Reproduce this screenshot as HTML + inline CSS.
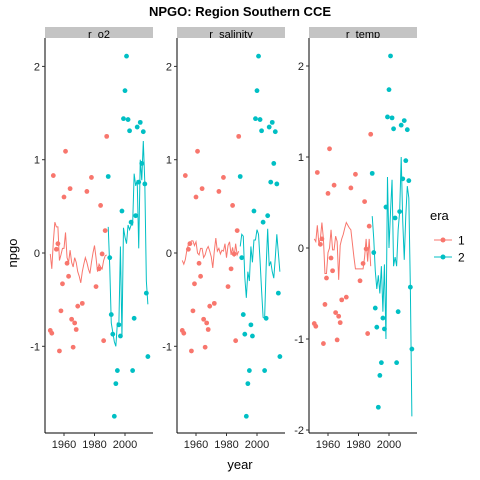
<!DOCTYPE html>
<html><head><meta charset="utf-8"><style>
body{margin:0;background:#fff;}
svg{display:block;font-family:"Liberation Sans",sans-serif;}
</style></head><body>
<svg id="chart" width="480" height="480" viewBox="0 0 480 480">
<rect width="480" height="480" fill="#fff"/>
<text x="240" y="16" text-anchor="middle" font-size="13" font-weight="bold">NPGO: Region Southern CCE</text>
<text x="240" y="469" text-anchor="middle" font-size="13">year</text>
<text transform="translate(17,253) rotate(-90)" text-anchor="middle" font-size="13">npgo</text>
<g>
<text x="430" y="220" font-size="13">era</text>
<line x1="434" y1="240" x2="452" y2="240" stroke="#F8766D" stroke-width="1"/><circle cx="443" cy="240" r="2.5" fill="#F8766D"/>
<text x="458" y="244.5" font-size="12">1</text>
<line x1="434" y1="257" x2="452" y2="257" stroke="#00BFC4" stroke-width="1"/><circle cx="443" cy="257" r="2.5" fill="#00BFC4"/>
<text x="458" y="261.5" font-size="12">2</text>
</g>
<defs><clipPath id="stripclip"><rect x="0" y="27" width="480" height="11"/></clipPath></defs>
<g id="panels"></g>
</svg>
<script>
const pointYears = [1951,1952,1953,1955,1956,1957,1958,1959,1960,1961,1962,1963,1964,1965,1966,1967,1968,1969,1972,1975,1978,1981,1983,1984,1985,1986,1987,1988,
1989,1990,1991,1992,1993,1994,1995,1996,1997,1998,1999,2000,2001,2002,2003,2004,2005,2006,2007,2008,2009,2010,2011,2012,2013,2014,2015];
const pointNpgo = [-0.83,-0.86,0.83,0.04,0.10,-1.05,-0.62,-0.33,0.60,1.09,-0.11,-0.25,0.69,-0.71,-1.01,-0.75,-0.82,-0.57,-0.54,0.66,0.81,-0.36,-0.17,0.51,-0.01,-0.94,0.24,1.25,
0.82,-0.05,-0.66,-0.87,-1.75,-1.40,-1.26,-0.77,-0.89,0.45,1.44,1.74,2.11,1.43,1.31,0.33,-1.26,-0.70,0.40,1.35,0.76,1.40,0.96,1.30,0.74,-0.43,-1.11];
const era1Years = [1951,1952,1953,1954,1955,1956,1957,1958,1959,1960,1961,1962,1963,1964,1965,1966,1967,1968,1969,1970,1971,1972,1973,1974,1975,1976,1977,1978,1979,1980,1981,1982,1983,1984,1985,1986,1987,1988];
const era2Years = [1989,1990,1991,1992,1993,1994,1995,1996,1997,1998,1999,2000,2001,2002,2003,2004,2005,2006,2007,2008,2009,2010,2011,2012,2013,2014,2015];
const o2Era1 = [-0.01,-0.17,0.12,0.33,0.28,0.28,-0.08,-0.02,0.05,0.05,0.22,-0.05,-0.1,0.03,-0.1,-0.15,-0.05,-0.1,-0.2,-0.25,-0.32,-0.2,-0.12,-0.05,-0.1,-0.17,-0.22,-0.1,0.0,0.08,-0.05,-0.2,-0.12,-0.15,-0.17,-0.08,-0.03,-0.02];
const o2Era2 = [0.28,-0.15,-0.75,-0.85,-0.95,-1.0,-0.75,-0.75,0.07,-0.9,0.27,0.17,0.1,0.3,0.25,0.3,0.3,0.85,0.72,0.78,0.05,1.0,0.78,1.2,0.75,-0.3,-0.55];
const salEra1 = [-0.08,-0.12,-0.07,0.03,0.09,0.1,0.13,0.13,0.08,0.12,0.0,-0.02,0.05,0.05,-0.05,-0.02,0.04,0.07,0.02,-0.04,-0.16,0.02,0.16,0.02,0.05,-0.01,0.03,0.02,0.1,-0.05,0.08,0.12,-0.02,0.06,-0.04,0.1,-0.02,0.02];
const salEra2 = [0.07,0.2,0.18,-0.26,-0.48,-0.2,-0.3,0.07,-0.1,0.14,0.14,0.25,0.2,-0.08,-0.4,-0.69,-0.7,-0.15,0.26,-0.14,-0.09,-0.2,-0.27,-0.05,0.2,0.0,-0.2];
const tempEra1 = [0.1,0.07,0.25,0.05,0.1,0.28,0.1,-0.28,-0.28,-0.05,0.0,0.2,-0.02,-0.02,0.13,0.07,-0.35,0.03,0.1,0.15,0.22,0.28,0.25,0.22,0.2,0.05,-0.1,-0.23,-0.23,-0.23,-0.23,-0.23,-0.23,-0.1,0.1,-0.15,0.1,-0.2];
const tempEra2 = [0.35,0.1,-0.25,-0.45,-0.3,-0.5,-0.2,-0.7,-0.18,-1.0,0.78,0.0,0.4,0.75,-0.2,-0.1,-0.2,0.2,0.4,1.0,0.3,-0.13,0.35,0.68,0.55,-0.43,-1.85];
const panelLabels = ["r_o2","r_salinity","r_temp"];
const panelTicks = [[2,1,0,-1],[2,1,0,-1],[2,1,0,-1,-2]];
const xTicks = [1960,1980,2000];

const panels = [
 {left:45, zeroY:253, unit:93.3, e1:o2Era1, e2:o2Era2, name:'o2'},
 {left:177, zeroY:253, unit:93.3, e1:salEra1, e2:salEra2, name:'salinity'},
 {left:309, zeroY:248, unit:91, e1:tempEra1, e2:tempEra2, name:'temp'}
];
const NS='http://www.w3.org/2000/svg';
const root=document.getElementById('panels');
function mk(t,a,p){const e=document.createElementNS(NS,t);for(const k in a)e.setAttribute(k,a[k]);p.appendChild(e);return e;}
panels.forEach((P,i)=>{
  const g=mk('g',{},root);
  
  
  const xs=yr=>P.left+19+(yr-1960)*1.525;
  const ys=v=>P.zeroY-v*P.unit;
  const strip=mk('rect',{x:P.left,y:27,width:108,height:11,fill:'#c4c4c4'},g);
  
  
  const st=mk('text',{x:P.left+54,y:38,'text-anchor':'middle','font-size':11,'clip-path':'url(#stripclip)'},g);
  st.textContent=panelLabels[i];
  
  
  mk('line',{x1:P.left,y1:38,x2:P.left,y2:433,stroke:'#000','stroke-width':1},g);
  mk('line',{x1:P.left,y1:433,x2:P.left+108,y2:433,stroke:'#000','stroke-width':1},g);
  panelTicks[i].forEach(t=>{
    const y=ys(t);
    mk('line',{x1:P.left-3,y1:y,x2:P.left,y2:y,stroke:'#333'},g);
    const tx=mk('text',{x:P.left-5,y:y+4,'text-anchor':'end','font-size':11,fill:'#222'},g);
    tx.textContent=String(t);
    
    
  });
  xTicks.forEach(t=>{
    const x=xs(t);
    mk('line',{x1:x,y1:433,x2:x,y2:436,stroke:'#333'},g);
    const tx=mk('text',{x:x,y:448,'text-anchor':'middle','font-size':11,fill:'#222'},g);
    tx.textContent=String(t);
    
    
  });
  const l1=mk('polyline',{points:era1Years.map((y,j)=>xs(y)+','+ys(P.e1[j])).join(' '),fill:'none',stroke:'#F8766D','stroke-width':1},g);
  
  
  const l2=mk('polyline',{points:era2Years.map((y,j)=>xs(y)+','+ys(P.e2[j])).join(' '),fill:'none',stroke:'#00BFC4','stroke-width':1},g);
  
  
  pointYears.forEach((yr,j)=>{
    const c=mk('circle',{cx:xs(yr),cy:ys(pointNpgo[j]),r:2.4,fill:yr<=1988?'#F8766D':'#00BFC4'},g);
    
    
  });
});
</script>
</body></html>
